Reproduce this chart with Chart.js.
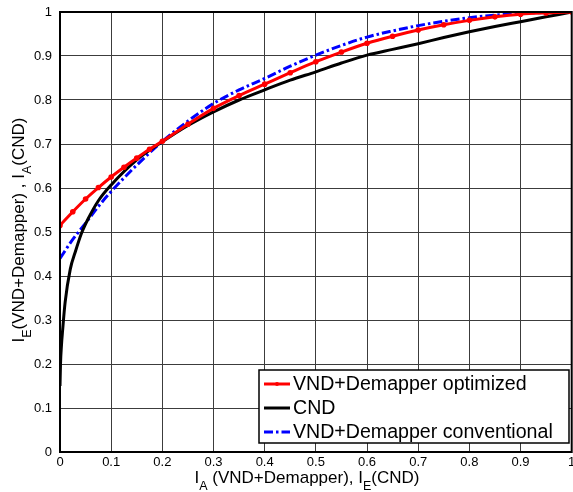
<!DOCTYPE html>
<html>
<head>
<meta charset="utf-8">
<script src="https://cdn.jsdelivr.net/npm/chart.js@4/dist/chart.umd.min.js"></script>
<style>
  html, body { margin: 0; padding: 0; background: #fff; overflow: hidden; }
</style>
</head>
<body>
<canvas id="exit" width="576" height="492"></canvas>
<script>
// EXIT chart curves
const xOpt = [0, 0.025, 0.05, 0.075, 0.1, 0.125, 0.15, 0.175, 0.2, 0.25, 0.3, 0.35, 0.4, 0.45, 0.5, 0.55, 0.6, 0.65, 0.7, 0.75, 0.8, 0.85, 0.9, 0.95, 1];
const yOpt = [0.515, 0.546, 0.575, 0.601, 0.625, 0.647, 0.668, 0.688, 0.706, 0.745, 0.781, 0.81, 0.836, 0.862, 0.887, 0.909, 0.929, 0.945, 0.959, 0.971, 0.981, 0.989, 0.995, 0.998, 1];

const xCnd = [0, 0.001, 0.003, 0.005, 0.01, 0.02, 0.03, 0.042, 0.055, 0.075, 0.1, 0.15, 0.2, 0.25, 0.3, 0.35, 0.4, 0.45, 0.5, 0.55, 0.6, 0.65, 0.7, 0.75, 0.8, 0.85, 0.9, 0.95, 1];
const yCnd = [0.15, 0.2, 0.245, 0.275, 0.34, 0.415, 0.455, 0.497, 0.53, 0.571, 0.607, 0.664, 0.705, 0.742, 0.773, 0.8, 0.823, 0.845, 0.864, 0.884, 0.902, 0.915, 0.928, 0.942, 0.955, 0.967, 0.978, 0.989, 1];

const xConv = [0, 0.025, 0.05, 0.075, 0.1, 0.15, 0.2, 0.25, 0.3, 0.35, 0.4, 0.45, 0.5, 0.55, 0.6, 0.65, 0.7, 0.75, 0.8, 0.85, 0.9, 0.95, 1];
const yConv = [0.44, 0.483, 0.52, 0.558, 0.592, 0.652, 0.706, 0.752, 0.792, 0.823, 0.849, 0.877, 0.902, 0.924, 0.943, 0.957, 0.969, 0.979, 0.987, 0.993, 0.997, 0.999, 1];

const seriesLabels = ["VND+Demapper optimized", "CND", "VND+Demapper conventional"];
const tickValues = [0, 0.1, 0.2, 0.3, 0.4, 0.5, 0.6, 0.7, 0.8, 0.9, 1];

const FONT = "Arial, 'Liberation Sans', sans-serif";
const pts = (xs, ys) => xs.map((x, i) => ({ x: x, y: ys[i] }));

// texte avec indices (I_A, I_E) dessiné à la main
function richWidth(ctx, parts, big, small){
  let w = 0;
  parts.forEach(p => { ctx.font = (p[1] ? small : big) + "px " + FONT; w += ctx.measureText(p[0]).width; });
  return w;
}
function drawRich(ctx, parts, cx, y, big, small, subDrop){
  let x = cx - richWidth(ctx, parts, big, small) / 2;
  ctx.textAlign = "left"; ctx.textBaseline = "alphabetic"; ctx.fillStyle = "#000";
  parts.forEach(p => {
    ctx.font = (p[1] ? small : big) + "px " + FONT;
    ctx.fillText(p[0], x, y + (p[1] ? subDrop : 0));
    x += ctx.measureText(p[0]).width;
  });
}

const decor = {
  id: "decor",
  afterDatasetsDraw(chart){
    const ctx = chart.ctx, a = chart.chartArea;
    ctx.save();
    // cadre
    ctx.strokeStyle = "#000"; ctx.lineWidth = 2;
    ctx.strokeRect(a.left, a.top, a.right - a.left, a.bottom - a.top);

    // titres des axes
    drawRich(ctx, [["I", 0], ["A", 1], [" (VND+Demapper), I", 0], ["E", 1], ["(CND)", 0]], 307, 483, 17, 12.5, 7);
    ctx.save();
    ctx.translate(24, 230);
    ctx.rotate(-Math.PI / 2);
    drawRich(ctx, [["I", 0], ["E", 1], ["(VND+Demapper) , I", 0], ["A", 1], ["(CND)", 0]], 0, 0, 17, 12.5, 7);
    ctx.restore();

    // légende
    const lx = 259, ly = 370, lw = 310, lh = 73;
    ctx.fillStyle = "#fff"; ctx.fillRect(lx, ly, lw, lh);
    ctx.strokeStyle = "#000"; ctx.lineWidth = 1.5; ctx.strokeRect(lx, ly, lw, lh);
    const rows = [384, 408, 432];
    chart.data.datasets.forEach((ds, i) => {
      const y = rows[i];
      ctx.strokeStyle = ds.borderColor; ctx.lineWidth = ds.borderWidth;
      ctx.setLineDash(ds.borderDash || []);
      ctx.beginPath(); ctx.moveTo(264, y); ctx.lineTo(290, y); ctx.stroke();
      ctx.setLineDash([]);
      if (ds.pointRadius > 0){
        ctx.fillStyle = ds.borderColor;
        ctx.beginPath(); ctx.arc(277, y, 2, 0, Math.PI * 2); ctx.fill();
      }
      ctx.fillStyle = "#000"; ctx.font = "19.6px " + FONT;
      ctx.textAlign = "left"; ctx.textBaseline = "middle";
      ctx.fillText(ds.label, 293, y + 1);
    });
    ctx.restore();
  }
};

function noPad(s){ s.paddingLeft = 0; s.paddingRight = 0; s.paddingTop = 0; s.paddingBottom = 0; }

new Chart(document.getElementById("exit"), {
  type: "scatter",
  data: {
    datasets: [
      { label: seriesLabels[0], data: pts(xOpt, yOpt), showLine: true, borderColor: "#ff0000", backgroundColor: "#ff0000",
        borderWidth: 3, pointRadius: 1.3, pointHoverRadius: 0, cubicInterpolationMode: "monotone" },
      { label: seriesLabels[1], data: pts(xCnd, yCnd), showLine: true, borderColor: "#000000", backgroundColor: "#000000",
        borderWidth: 3, pointRadius: 0, cubicInterpolationMode: "monotone" },
      { label: seriesLabels[2], data: pts(xConv, yConv), showLine: true, borderColor: "#0000ff", backgroundColor: "#0000ff",
        borderWidth: 3, borderDash: [9, 3, 2.5, 3], pointRadius: 0, cubicInterpolationMode: "monotone" }
    ]
  },
  options: {
    responsive: false,
    animation: false,
    layout: { padding: { top: 12, right: 1, left: 0, bottom: 0 } },
    plugins: { legend: { display: false }, tooltip: { enabled: false } },
    scales: {
      x: {
        type: "linear", min: 0, max: 1,
        afterBuildTicks: s => { s.ticks = tickValues.map(v => ({ value: v })); },
        afterFit: s => { s.height = 40; noPad(s); },
        ticks: { color: "#000", font: { family: FONT, size: 13 }, padding: 3, maxRotation: 0,
                 callback: v => String(+v.toFixed(1)) },
        grid: { color: "#3c3c3c", lineWidth: 1, drawTicks: false },
        border: { color: "#000", width: 2 }
      },
      y: {
        type: "linear", min: 0, max: 1,
        afterBuildTicks: s => { s.ticks = tickValues.map(v => ({ value: v })); },
        afterFit: s => { s.width = 60; noPad(s); },
        ticks: { color: "#000", font: { family: FONT, size: 13 }, padding: 8,
                 callback: v => String(+v.toFixed(1)) },
        grid: { color: "#3c3c3c", lineWidth: 1, drawTicks: false },
        border: { color: "#000", width: 2 }
      }
    }
  },
  plugins: [decor]
});
</script>
</body>
</html>
